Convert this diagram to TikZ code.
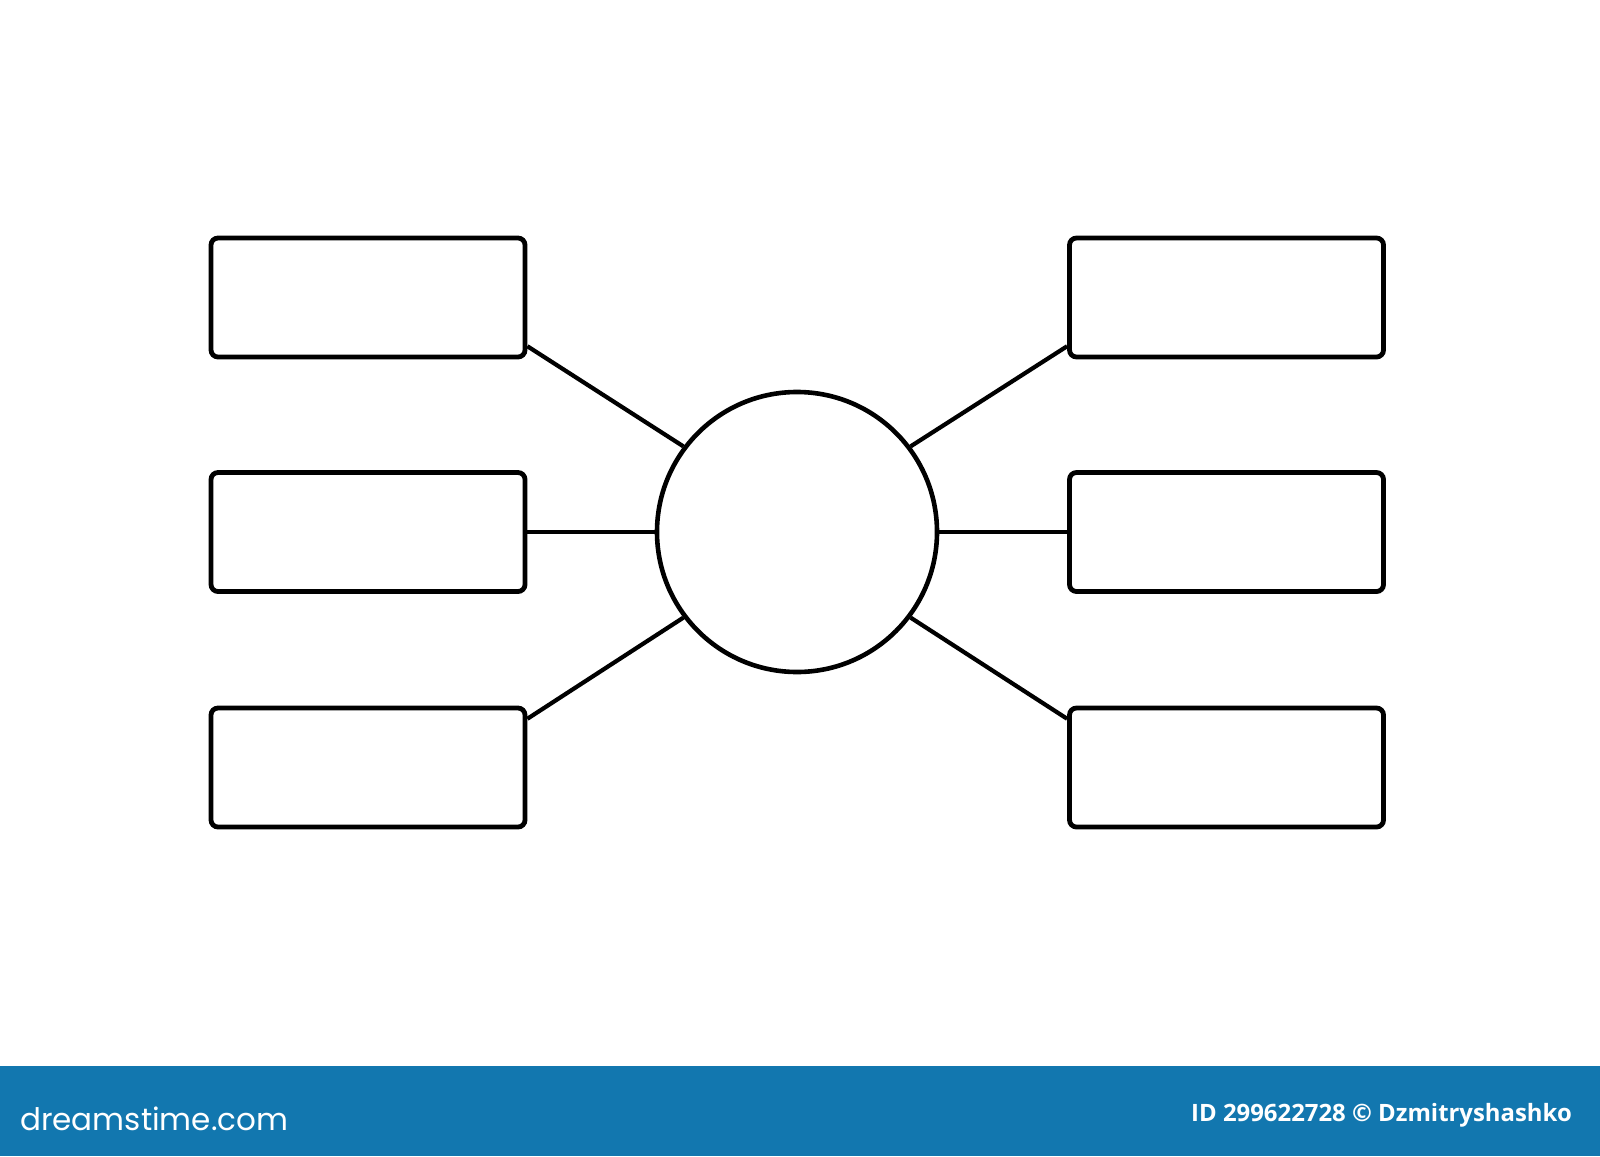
\documentclass[tikz,border=0pt]{standalone}
\usepackage{fontspec}
\newfontfamily\logofont{Poppins}
\newfontfamily\idfont{Open Sans}
\definecolor{bannerblue}{RGB}{18,119,175}
\begin{document}
\begin{tikzpicture}[x=1pt,y=-1pt,
  box/.style={draw=black,line width=4.8pt,rounded corners=7pt,minimum width=314pt,minimum height=119pt,inner sep=0pt,fill=white},
  hub/.style={draw=black,line width=4.6pt,circle,minimum size=280pt,inner sep=0pt,fill=white},
  link/.style={draw=black,line width=4.2pt}]
\useasboundingbox (0,0) rectangle (1600,1156);
\fill[white] (0,0) rectangle (1600,1156);
\fill[bannerblue] (0,1066) rectangle (1600,1156);
\node[hub] (c) at (797,532) {};
\node[box] (l1) at (368,297.5) {};
\node[box] (l2) at (368,532) {};
\node[box] (l3) at (368,767.5) {};
\node[box] (r1) at (1226.5,297.5) {};
\node[box] (r2) at (1226.5,532) {};
\node[box] (r3) at (1226.5,767.5) {};
\draw[link] (l1.-17) -- (c.143);
\draw[link] (l2.east) -- (c.west);
\draw[link] (l3.17) -- (c.217);
\draw[link] (r1.197) -- (c.37);
\draw[link] (r2.west) -- (c.east);
\draw[link] (r3.163) -- (c.-37);
\node[anchor=base west,text=white,font=\logofont\fontsize{31}{31}\selectfont,inner sep=0pt] (logo) at (20,1130) {dreamstime.com};
\node[anchor=base east,text=white,font=\idfont\bfseries\fontsize{23.9}{23.9}\selectfont,inner sep=0pt] (id) at (1572,1121) {ID 299622728 © Dzmitryshashko};
\end{tikzpicture}
\end{document}
